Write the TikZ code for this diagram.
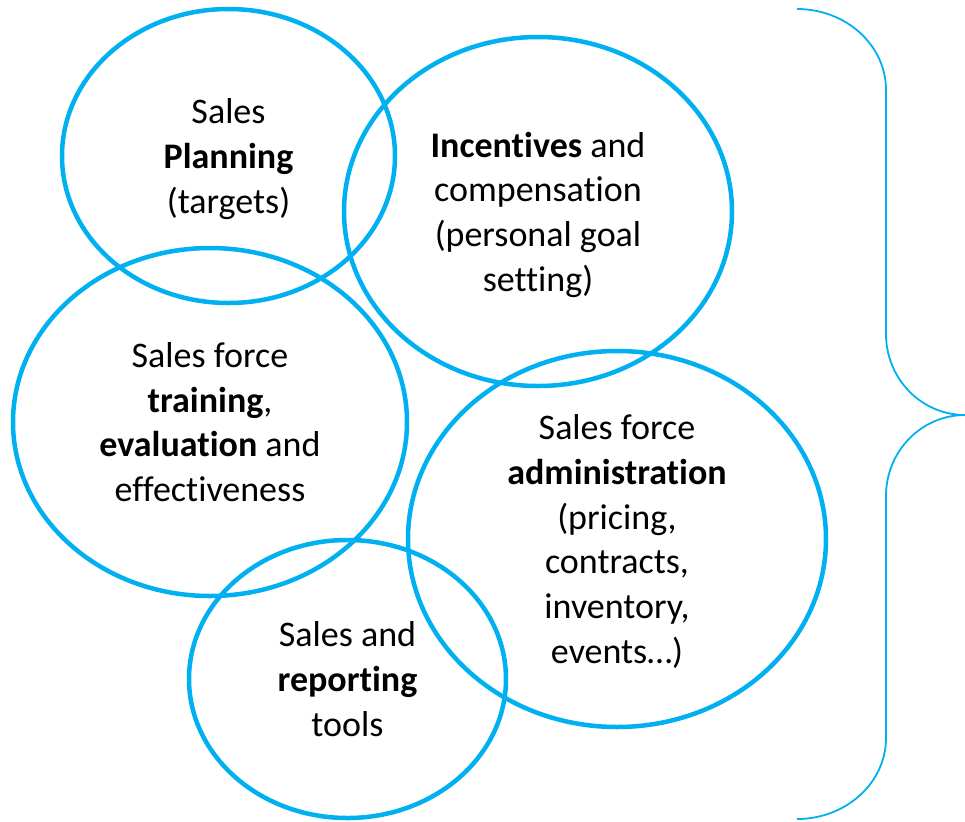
\documentclass[tikz,border=0pt]{standalone}
\usepackage{fontspec}
\setmainfont{Carlito}[Ligatures={NoCommon,NoContextual}]
\usetikzlibrary{shapes.geometric}

\definecolor{bubblecyan}{RGB}{0,176,240}

\tikzset{
	bubble/.style 2 args={ellipse, draw=bubblecyan, line width=2.25pt, inner sep=0pt,
		minimum width={0.5*#1pt}, minimum height={0.5*#2pt}, align=center,
		text depth=0pt, font=\fontsize{18}{22.35}\selectfont},
	braceline/.style={draw=bubblecyan, line width=0.9pt},
}

\begin{document}
\begin{tikzpicture}[x=0.5pt, y=-0.5pt]
	\useasboundingbox (0,0) rectangle (965,821);

	%the five bubbles (width and height in pixels)
	\node[bubble={333}{294}] (plan) at (228.5,156) {Sales\\\textbf{Planning}\\(targets)};
	\node[bubble={388}{349}] (incent) at (538,211.5) {\textbf{Incentives} and\\compensation\\(personal goal\\setting)};
	\node[bubble={394}{348}] (train) at (210,422) {Sales force\\\textbf{training},\\\textbf{evaluation} and\\effectiveness};
	\node[bubble={418}{376}] (admin) at (617,539) {Sales force\\\textbf{administration}\\(pricing,\\contracts,\\inventory,\\events…)};
	\node[bubble={317}{278}] (report) at (347.5,679) {Sales and\\\textbf{reporting}\\tools};

	%right brace
	\pgfmathsetmacro{\bx}{886}		%x of the straight parts
	\pgfmathsetmacro{\rr}{81}		%vertical radius of the bends
	\coordinate (btop) at (797,9);
	\coordinate (btip) at (965,415);
	\coordinate (bbot) at (797,819);

	\draw[braceline] (btop) arc[start angle=-90, end angle=0, x radius=89, y radius=\rr]
		-- (\bx,334) arc[start angle=180, end angle=90, x radius=79, y radius=\rr];
	\draw[braceline] (btip) arc[start angle=270, end angle=180, x radius=79, y radius=\rr]
		-- (\bx,738) arc[start angle=0, end angle=90, x radius=89, y radius=\rr];
\end{tikzpicture}
\end{document}
